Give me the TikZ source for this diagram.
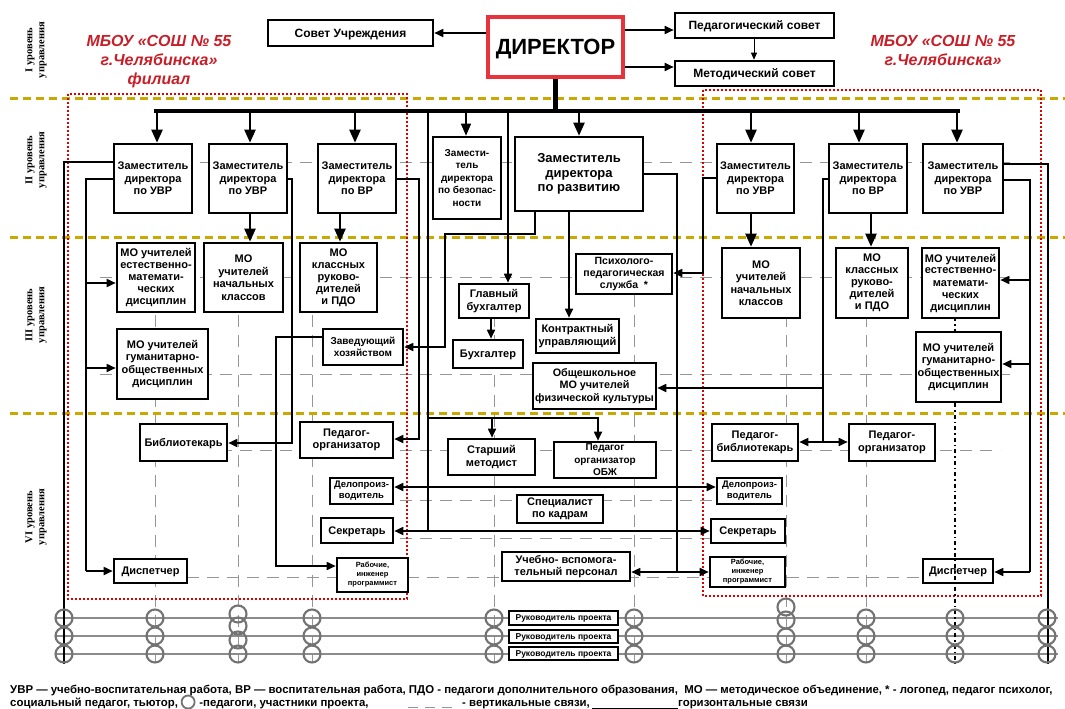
\documentclass[tikz,border=0pt]{standalone}
\usepackage{fontspec}
\setmainfont{Liberation Sans}
\newfontfamily\serifrm{Liberation Serif}
\usetikzlibrary{arrows.meta,calc}
\definecolor{ylw}{RGB}{201,168,0}
\definecolor{redt}{RGB}{200,30,40}
\definecolor{dred}{RGB}{232,50,60}
\definecolor{gridg}{RGB}{150,150,150}
\definecolor{rowg}{RGB}{140,140,140}
\definecolor{circg}{RGB}{115,115,115}
\newcommand\mybox[7][]{\node[box,#1,minimum width={#5-#3},minimum height={#6-#4}] (#2) at ({(#3+#5)/2},{(#4+#6)/2}) {#7};}
\begin{document}
\begin{tikzpicture}[x=1pt,y=-1pt,
  box/.style={draw=black,line width=2.6pt,fill=white,inner sep=0pt,align=center,font=\bfseries\fontsize{11}{12.5}\selectfont},
  sl/.style={text depth=0pt},
  fxiii/.style={font=\bfseries\fontsize{13}{14.5}\selectfont},
  fxii/.style={font=\bfseries\fontsize{12}{13.5}\selectfont},
  fx/.style={font=\bfseries\fontsize{10}{12.5}\selectfont},
  fxs/.style={font=\bfseries\fontsize{9.5}{11}\selectfont},
  ftiny/.style={font=\bfseries\fontsize{7.5}{9}\selectfont},
  conn/.style={line width=1.7pt},
  arr/.style={conn,-{Triangle[length=9pt,width=8pt]}},
  darr/.style={conn,{Triangle[length=9pt,width=8pt]}-{Triangle[length=9pt,width=8pt]}},
  bigarr/.style={line width=2.2pt,-{Triangle[length=13pt,width=11pt]}},
  thinarr/.style={line width=0.8pt,-{Triangle[length=7pt,width=6pt]}},
  gridl/.style={gridg,line width=0.8pt,dash pattern=on 12pt off 8pt},
  yl/.style={ylw,line width=3pt,dash pattern=on 8pt off 5pt},
  rd/.style={red!85!black,line width=1.3pt,dash pattern=on 2pt off 2pt},
  circ/.style={circg,line width=2.1pt},
  lvl/.style={rotate=90,align=center,font=\serifrm\bfseries\fontsize{10.5}{12}\selectfont},
  ttl/.style={align=center,text=redt,font=\bfseries\itshape\fontsize{16}{19}\selectfont},
  foot/.style={anchor=base west,inner sep=0pt,font=\bfseries\fontsize{11.4}{13}\selectfont}
]
\useasboundingbox (0,0) rectangle (1065,709);
\fill[white] (0,0) rectangle (1065,709);

% level separators
\foreach \y in {98,237,413} \draw[yl] (10,\y) -- (1065,\y);

% grid lines
\foreach \x in {155,238,312,494,634,786,866} \draw[gridl] (\x,295) -- (\x,662);
\foreach \y in {162,277,374} \draw[gridl] (100,\y) -- (1010,\y);
\draw[gridl] (200,450) -- (1000,450);
\draw[gridl] (400,500) -- (720,500);
\draw[gridl] (400,538) -- (720,538);
\draw[gridl] (187,577) -- (923,577);

% project rows
\foreach \y in {618,636,654} \draw[rowg,line width=1.3pt] (55,\y) -- (1058,\y);

% red dotted frames
\draw[rd] (68,94) rectangle (407,599);
\draw[rd] (703,90) rectangle (1041,596);

% level labels
\node[lvl] at (36,50) {I уровень\\управления};
\node[lvl] at (36,160) {II уровень\\управления};
\node[lvl] at (36,315) {III уровень\\управления};
\node[lvl] at (36,517) {VI уровень\\управления};

% titles
\node[ttl] at (159,62) {МБОУ «СОШ № 55\\г.Челябинска»\\филиал};
\node[ttl] at (943,50) {МБОУ «СОШ № 55\\г.Челябинска»};

% boxes level I
\mybox[fxii,sl]{sovet}{268}{20}{433}{46}{Совет Учреждения}
\mybox[draw=dred,line width=3.8pt,sl,font=\bfseries\fontsize{22}{24}\selectfont]{dir}{488}{17}{623}{77}{ДИРЕКТОР}
\mybox[fxii,sl]{ped}{675}{13}{834}{38}{Педагогический совет}
\mybox[fxii,sl]{met}{675}{61}{834}{86}{Методический совет}

\draw[arr] (dir.west |- 0,33) -- (sovet.east |- 0,33);
\draw[arr] (dir.east |- 0,30) -- (ped.west |- 0,30);
\draw[arr] (dir.east |- 0,67) -- (met.west |- 0,67);
\draw[thinarr] (ped.south -| 754,0) -- (met.north -| 754,0);

% level II boxes
\mybox{L1}{114}{144}{192}{213}{Заместитель\\директора\\по УВР}
\mybox{L2}{209}{144}{287}{213}{Заместитель\\директора\\по УВР}
\mybox{L3}{318}{144}{396}{213}{Заместитель\\директора\\по ВР}
\mybox[fx]{bez}{433}{137}{501}{219}{Замести-\\тель\\директора\\по безопас-\\ности}
\mybox[fxiii]{raz}{515}{137}{643}{211}{Заместитель\\директора\\по развитию}
\mybox{R1}{717}{144}{794}{213}{Заместитель\\директора\\по УВР}
\mybox{R2}{829}{144}{907}{213}{Заместитель\\директора\\по ВР}
\mybox{R3}{923}{144}{1003}{213}{Заместитель\\директора\\по УВР}

% level III boxes
\mybox[font=\bfseries\fontsize{11}{12}\selectfont]{moest}{117}{243}{195}{312}{МО учителей\\естественно-\\математи-\\ческих\\дисциплин}
\mybox[font=\bfseries\fontsize{11}{12.5}\selectfont]{monach}{204}{243}{283}{312}{МО\\учителей\\начальных\\классов}
\mybox[font=\bfseries\fontsize{11}{12}\selectfont]{mokl}{300}{243}{377}{312}{МО\\классных\\руково-\\дителей\\и ПДО}
\mybox{mogum}{117}{329}{208}{399}{МО учителей\\гуманитарно-\\общественных\\дисциплин}
\mybox[fx]{zavhoz}{323}{329}{403}{365}{Заведующий\\хозяйством}
\mybox{glbuh}{459}{284}{529}{318}{Главный\\бухгалтер}
\mybox[sl]{buh}{453}{340}{523}{368}{Бухгалтер}
\mybox[font=\bfseries\fontsize{10.5}{12}\selectfont]{psy}{576}{254}{672}{294}{Психолого-\\педагогическая\\служба\ \ *}
\mybox{kontr}{536}{319}{619}{353}{Контрактный\\управляющий}
\mybox[font=\bfseries\fontsize{10.8}{12.5}\selectfont]{fiz}{533}{363}{656}{409}{Общешкольное\\МО учителей\\физической культуры}
\mybox[font=\bfseries\fontsize{11}{12.5}\selectfont]{Rmonach}{722}{248}{800}{318}{МО\\учителей\\начальных\\классов}
\mybox[font=\bfseries\fontsize{11}{12}\selectfont]{Rmokl}{836}{248}{908}{318}{МО\\классных\\руково-\\дителей\\и ПДО}
\mybox[font=\bfseries\fontsize{11}{12}\selectfont]{Rmoest}{922}{248}{999}{318}{МО учителей\\естественно-\\математи-\\ческих\\дисциплин}
\mybox{Rmogum}{916}{332}{1001}{402}{МО учителей\\гуманитарно-\\общественных\\дисциплин}

% level IV boxes
\mybox[sl]{bib}{140}{424}{227}{461}{Библиотекарь}
\mybox{porgL}{300}{422}{393}{458}{Педагог-\\организатор}
\mybox{stmet}{448}{439}{535}{475}{Старший\\методист}
\mybox[fx]{obzh}{554}{442}{656}{478}{Педагог\\организатор\\ОБЖ}
\mybox[fxs]{delL}{330}{478}{393}{504}{Делопроиз-\\водитель}
\mybox{kadr}{517}{495}{603}{523}{Специалист\\по кадрам}
\mybox[sl]{sekL}{321}{518}{393}{543}{Секретарь}
\mybox{uvp}{502}{552}{630}{581}{Учебно- вспомога-\\тельный персонал}
\mybox[sl]{dispL}{114}{559}{187}{583}{Диспетчер}
\mybox[ftiny]{rabL}{337}{558}{408}{592}{Рабочие,\\инженер\\программист}
\mybox{Rbib}{712}{424}{798}{461}{Педагог-\\библиотекарь}
\mybox{Rporg}{849}{424}{935}{461}{Педагог-\\организатор}
\mybox[fxs]{Rdel}{717}{478}{782}{504}{Делопроиз-\\водитель}
\mybox[sl]{Rsek}{711}{519}{785}{543}{Секретарь}
\mybox[ftiny]{Rrab}{710}{557}{785}{587}{Рабочие,\\инженер\\программист}
\mybox[sl]{Rdisp}{923}{559}{993}{583}{Диспетчер}

% project leaders
\mybox[sl,font=\bfseries\fontsize{8.5}{9}\selectfont]{pr1}{509}{611}{618}{625}{Руководитель проекта}
\mybox[sl,font=\bfseries\fontsize{8.5}{9}\selectfont]{pr2}{509}{630}{618}{643}{Руководитель проекта}
\mybox[sl,font=\bfseries\fontsize{8.5}{9}\selectfont]{pr3}{509}{647}{618}{660}{Руководитель проекта}

% bus
\draw[line width=4.5pt] (dir.south) -- (dir.south |- 0,111);
\draw[bigarr] (157,111) -- (L1.north -| 157,0);
\draw[bigarr] (250,111) -- (L2.north -| 250,0);
\draw[bigarr] (355,111) -- (L3.north -| 355,0);
\draw[line width=1.4pt,-{Triangle[length=12pt,width=10pt]}] (466,111) -- (bez.north -| 466,0);
\draw[bigarr] (579,111) -- (raz.north -| 579,0);
\draw[bigarr] (751,111) -- (R1.north -| 751,0);
\draw[bigarr] (859,111) -- (R2.north -| 859,0);
\draw[bigarr] (957,111) -- (R3.north -| 957,0);
\draw[line width=4.5pt] (154,111) -- (960,111);

% level II -> III
\draw[bigarr] (L2.south -| 250,0) -- (monach.north -| 250,0);
\draw[bigarr] (L3.south -| 340,0) -- (mokl.north -| 340,0);
\draw[bigarr] (R1.south -| 751,0) -- (Rmonach.north -| 751,0);
\draw[bigarr] (R2.south -| 871,0) -- (Rmokl.north -| 871,0);

% left side
\draw[conn] (L1.west |- 0,162) -- (64,162) -- (64,664);
\draw[conn] (L1.west |- 0,179) -- (86,179) -- (86,571);
\draw[arr] (86,283) -- (moest.west |- 0,283);
\draw[arr] (86,368) -- (mogum.west |- 0,368);
\draw[arr] (86,571) -- (dispL.west |- 0,571);
\draw[arr] (L2.east |- 0,179) -- (292,179) -- (292,443) -- (bib.east |- 0,443);
\draw[arr] (L3.east |- 0,179) -- (419,179) -- (419,439) -- (porgL.east |- 0,439);
\draw[arr] (zavhoz.west |- 0,337) -- (276,337) -- (276,566) -- (rabL.west |- 0,566);

% centre
\draw[conn] (428,111) -- (428,531);
\draw[darr] (sekL.east |- 0,531) -- (Rsek.west |- 0,531);
\draw[arr] (428,418) -- (598,418) -- (obzh.north -| 598,0);
\draw[arr] (492,418) -- (stmet.north -| 492,0);
\draw[darr] (delL.east |- 0,487) -- (Rdel.west |- 0,487);
\draw[arr] (508,111) -- (glbuh.north -| 508,0);
\draw[arr] (glbuh.south -| 491,0) -- (buh.north -| 491,0);
\draw[arr] (raz.south -| 535,0) -- (535,234) -- (445,234) -- (445,347) -- (zavhoz.east |- 0,347);
\draw[arr] (raz.south -| 569,0) -- (kontr.north -| 569,0);
\draw[conn] (raz.east |- 0,174) -- (677,174) -- (677,572);
\draw[darr] (uvp.east |- 0,572) -- (Rrab.west |- 0,572);

% right side
\draw[arr] (R1.west |- 0,178) -- (703,178) -- (703,273) -- (psy.east |- 0,273);
\draw[conn] (R2.west |- 0,179) -- (823,179) -- (823,442);
\draw[arr] (823,388) -- (fiz.east |- 0,388);
\draw[darr] (Rbib.east |- 0,442) -- (Rporg.west |- 0,442);
\draw[conn] (R3.east |- 0,164) -- (1048,164) -- (1048,664);
\draw[conn] (R3.east |- 0,180) -- (1030,180) -- (1030,572);
\draw[arr] (1030,280) -- (Rmoest.east |- 0,280);
\draw[arr] (1030,364) -- (Rmogum.east |- 0,364);
\draw[arr] (1030,572) -- (Rdisp.east |- 0,572);
\draw[line width=2pt,dash pattern=on 2pt off 3pt] (Rmoest.south -| 955,0) -- (Rmogum.north -| 955,0);
\draw[line width=2.8pt,dash pattern=on 4pt off 3pt on 1.5pt off 3pt] (Rmogum.south -| 955,0) -- (955,664);

% participant circles
\foreach \x in {64,155,312,494,634,866,955,1047} \foreach \y in {618,636,654} \draw[circ] (\x,\y) circle (8.5);
\foreach \y in {614,626,640,654} \draw[circ] (238,\y) circle (8.5);
\foreach \y in {607,620,637,654} \draw[circ] (786,\y) circle (8.5);

% footer
\node[foot] at (10,693) {УВР — учебно-воспитательная работа, ВР — воспитательная работа, ПДО - педагоги дополнительного образования,\ \ МО — методическое объединение, * - логопед, педагог психолог,};
\node[foot] (f1) at (10,706) {социальный педагог, тьютор,};
\draw[circg,line width=1.8pt] (f1.base east) ++(10,-4) circle (6.5);
\node[foot] (f2) at ([xshift=21pt]f1.base east) {-педагоги, участники проекта,};
\draw[gridg,line width=1pt,dash pattern=on 10pt off 7pt] (408,707) -- (457,707);
\node[foot] (f3) at (462,706) {- вертикальные связи,};
\draw[line width=0.7pt] (592,708) -- (678,708);
\node[foot] (f4) at (678,706) {горизонтальные связи};
\end{tikzpicture}
\end{document}
